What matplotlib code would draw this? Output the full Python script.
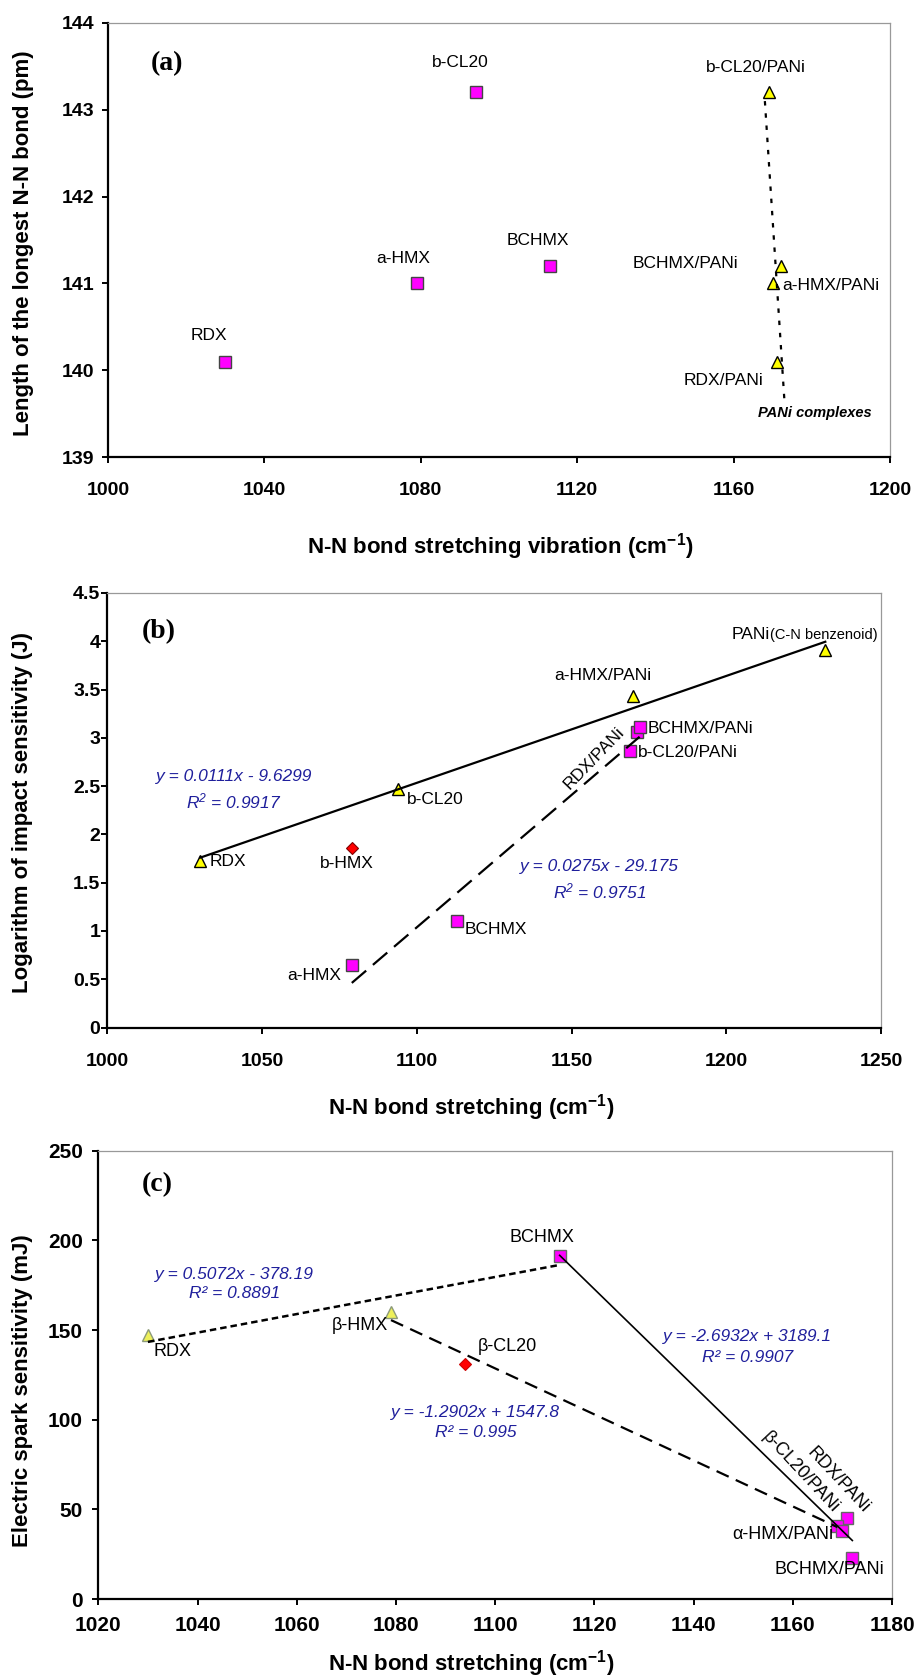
import numpy as np
import matplotlib.pyplot as plt
from matplotlib.ticker import FuncFormatter

plt.rcParams['font.family'] = ['Liberation Sans', 'DejaVu Sans']
plt.rcParams['mathtext.default'] = 'regular'

# ---- panel (a): N-N bond length vs stretching vibration ----
a_sq_names = ['RDX', 'a-HMX', 'b-CL20', 'BCHMX']
a_sq_x = [1030, 1079, 1094, 1113]
a_sq_y = [140.1, 141.0, 143.2, 141.2]
a_tri_names = ['b-CL20/PANi', 'BCHMX/PANi', 'a-HMX/PANi', 'RDX/PANi']
a_tri_x = [1169, 1172, 1170, 1171]
a_tri_y = [143.2, 141.2, 141.0, 140.1]
a_xticks = [1000, 1040, 1080, 1120, 1160, 1200]
a_yticks = [139, 140, 141, 142, 143, 144]

# ---- panel (b): log impact sensitivity ----
b_tri_names = ['RDX', 'b-CL20', 'a-HMX/PANi', 'PANi']
b_tri_x = [1030, 1094, 1170, 1232]
b_tri_y = [1.72, 2.47, 3.43, 3.91]
b_sq_names = ['a-HMX', 'BCHMX', 'b-CL20/PANi', 'RDX/PANi', 'BCHMX/PANi']
b_sq_x = [1079, 1113, 1169, 1171, 1172]
b_sq_y = [0.65, 1.10, 2.86, 3.06, 3.11]
b_dia_names = ['b-HMX']
b_dia_x = [1079]
b_dia_y = [1.86]
b_xticks = [1000, 1050, 1100, 1150, 1200, 1250]
b_yticks = [0, 0.5, 1, 1.5, 2, 2.5, 3, 3.5, 4, 4.5]

# ---- panel (c): electric spark sensitivity ----
c_tri_names = ['RDX', 'β-HMX']
c_tri_x = [1030, 1079]
c_tri_y = [147, 160]
c_dia_names = ['β-CL20']
c_dia_x = [1094]
c_dia_y = [131]
c_sq_names = ['BCHMX', 'RDX/PANi', 'β-CL20/PANi', 'α-HMX/PANi', 'BCHMX/PANi']
c_sq_x = [1113, 1171, 1169, 1170, 1172]
c_sq_y = [191.5, 45, 41, 38, 23]
c_xticks = [1020, 1040, 1060, 1080, 1100, 1120, 1140, 1160, 1180]
c_yticks = [0, 50, 100, 150, 200, 250]

EQ_BLUE = '#1f1f9c'
MAG = '#ff00ff'


def style_axes(ax, xticks, yticks, size, xpad, ypad):
    ax.set_xlim(xticks[0], xticks[-1])
    ax.set_ylim(yticks[0], yticks[-1])
    ax.set_xticks(xticks)
    ax.set_yticks(yticks)
    ax.yaxis.set_major_formatter(FuncFormatter(lambda v, p: f'{v:g}'))
    for s in ['top', 'right']:
        ax.spines[s].set_color('#999999')
        ax.spines[s].set_linewidth(0.9)
    for s in ['left', 'bottom']:
        ax.spines[s].set_color('black')
        ax.spines[s].set_linewidth(1.6)
    ax.tick_params(direction='out', length=4, width=1.4, labelsize=size)
    ax.tick_params(axis='x', pad=xpad)
    ax.tick_params(axis='y', pad=ypad)
    for lab in ax.get_xticklabels() + ax.get_yticklabels():
        lab.set_fontweight('bold')


def trend(ax, xs, ys, x0, x1, **kw):
    # excel-style linear trendline over the series range
    m, c = np.polyfit(xs, ys, 1)
    xx = np.array([x0, x1])
    ax.plot(xx, m * xx + c, color='black', zorder=3, **kw)


def put_labels(ax, names, xs, ys, offs, size, rots=None):
    if rots is None:
        rots = [0] * len(names)
    for n, x, y, (dx, dy, ha), r in zip(names, xs, ys, offs, rots):
        ax.annotate(n, (x, y), xytext=(dx, dy), textcoords='offset pixels',
                    ha=ha, va='center', fontsize=size, rotation=r,
                    rotation_mode='anchor')


def panel_text(ax, s, x, y):
    ax.text(x, y, s, transform=ax.transAxes, family='Liberation Serif',
            fontweight='bold', fontsize=20, ha='center', va='center')


fig = plt.figure(figsize=(9.18, 16.76), dpi=100)
eq = dict(color=EQ_BLUE, fontstyle='italic', fontsize=12.5, ha='center', va='center')

# ================= (a) =================
ax = fig.add_axes([0.1176, 0.7273, 0.8519, 0.2590])
ax.plot(a_sq_x, a_sq_y, 's', ms=9, mfc=MAG, mec='#444444', mew=1, zorder=2)
ax.plot(a_tri_x, a_tri_y, '^', ms=9, mfc='#ffff00', mec='black', mew=1, zorder=2)
m, c = np.polyfit(a_tri_x, a_tri_y, 1)
xx = np.array([min(a_tri_x) - 1, max(a_tri_x) + 1])
ax.plot(xx, m * xx + c, color='black', lw=1.6, ls=(0, (2, 3.5)), zorder=3)
put_labels(ax, a_sq_names, a_sq_x, a_sq_y,
           [(-16, 26, 'center'), (-14, 25, 'center'), (-15, 30, 'center'), (-12, 26, 'center')], 12.5)
put_labels(ax, a_tri_names, a_tri_x, a_tri_y,
           [(-13, 25, 'center'), (-42, 3, 'right'), (10, -2, 'left'), (-13, -19, 'right')], 12.5)
ax.text(1180.8, 139.51, 'PANi complexes', fontsize=10.5, fontweight='bold',
        fontstyle='italic', ha='center', va='center')
style_axes(ax, a_xticks, a_yticks, 14, 14, 6)
panel_text(ax, '(a)', 0.075, 0.906)
ax.set_xlabel('N-N bond stretching vibration (cm$^{-1}$)', fontsize=16, fontweight='bold')
ax.set_ylabel('Length of the longest N-N bond (pm)', fontsize=16, fontweight='bold')
ax.xaxis.set_label_coords(0.502, -0.17)
ax.yaxis.set_label_coords(-0.095, 0.493)

# ================= (b) =================
ax = fig.add_axes([0.1169, 0.3869, 0.8428, 0.2593])
ax.plot(b_sq_x, b_sq_y, 's', ms=9, mfc=MAG, mec='#444444', mew=1, zorder=2)
ax.plot(b_tri_x, b_tri_y, '^', ms=9, mfc='#ffff00', mec='black', mew=1, zorder=2)
ax.plot(b_dia_x, b_dia_y, 'D', ms=6, mfc='#ff0000', mec='#800000', mew=0.8, zorder=2)
trend(ax, b_tri_x, b_tri_y, min(b_tri_x), max(b_tri_x), lw=1.6)
trend(ax, b_sq_x, b_sq_y, min(b_sq_x), max(b_sq_x), lw=1.6, dashes=(8.5, 4))
put_labels(ax, b_tri_names[:3], b_tri_x[:3], b_tri_y[:3],
           [(9, 0, 'left'), (9, -10, 'left'), (-31, 21, 'center')], 12.5)
ax.annotate('PANi', (b_tri_x[3], b_tri_y[3]), xytext=(-94, 11), textcoords='offset pixels',
            ha='left', va='baseline', fontsize=12.5)
ax.annotate('(C-N benzenoid)', (b_tri_x[3], b_tri_y[3]), xytext=(-55, 11),
            textcoords='offset pixels', ha='left', va='baseline', fontsize=10.5)
put_labels(ax, b_sq_names, b_sq_x, b_sq_y,
           [(-11, -11, 'right'), (8, -8, 'left'), (8, -1, 'left'),
            (-42, -26, 'center'), (8, -1, 'left')], 12.5,
           rots=[0, 0, 0, 46, 0])
put_labels(ax, b_dia_names, b_dia_x, b_dia_y, [(-5, -16, 'center')], 12.5)
ax.text(1041, 2.60, 'y = 0.0111x - 9.6299', **eq)
ax.text(1041, 2.34, 'R$^{2}$ = 0.9917', **eq)
ax.text(1159, 1.67, 'y = 0.0275x - 29.175', **eq)
ax.text(1159, 1.41, 'R$^{2}$ = 0.9751', **eq)
style_axes(ax, b_xticks, b_yticks, 14, 14, 1)
panel_text(ax, '(b)', 0.066, 0.911)
ax.set_xlabel('N-N bond stretching (cm$^{-1}$)', fontsize=16, fontweight='bold')
ax.set_ylabel('Logarithm of impact sensitivity (J)', fontsize=16, fontweight='bold')
ax.xaxis.set_label_coords(0.470, -0.148)
ax.yaxis.set_label_coords(-0.096, 0.495)

# ================= (c) =================
ax = fig.add_axes([0.1071, 0.0459, 0.8646, 0.2675])
ax.plot(c_sq_x, c_sq_y, 's', ms=9, mfc=MAG, mec='#666666', mew=1, zorder=2)
ax.plot(c_tri_x, c_tri_y, '^', ms=9, mfc='#eef05a', mec='#8c9a7a', mew=1, zorder=2)
ax.plot(c_dia_x, c_dia_y, 'D', ms=6, mfc='#ff0000', mec='#cc0000', mew=0.8, zorder=2)
# short dashes: RDX, β-HMX, BCHMX
sd_x = [c_tri_x[0], c_tri_x[1], c_sq_x[0]]
sd_y = [c_tri_y[0], c_tri_y[1], c_sq_y[0]]
trend(ax, sd_x, sd_y, min(sd_x), max(sd_x), lw=1.8, dashes=(2.6, 1.6))
# long dashes: β-HMX, β-CL20, β-CL20/PANi
ld_x = [c_tri_x[1], c_dia_x[0], c_sq_x[2]]
ld_y = [c_tri_y[1], c_dia_y[0], c_sq_y[2]]
trend(ax, ld_x, ld_y, min(ld_x), max(ld_x), lw=1.6, dashes=(6, 3.5))
trend(ax, c_sq_x, c_sq_y, min(c_sq_x), max(c_sq_x), lw=1.2)
put_labels(ax, c_tri_names, c_tri_x, c_tri_y, [(25, -16, 'center'), (-31, -13, 'center')], 13)
put_labels(ax, c_dia_names, c_dia_x, c_dia_y, [(42, 18, 'center')], 13)
put_labels(ax, c_sq_names, c_sq_x, c_sq_y,
           [(-18, 18, 'center'), (-9, 38, 'center'), (-37, 53, 'center'),
            (-9, -4, 'right'), (-23, -12, 'center')], 13,
           rots=[0, -47, -47, 0, 0])
ax.text(1047.4, 181.1, 'y = 0.5072x - 378.19', **eq)
ax.text(1047.4, 170.2, 'R² = 0.8891', **eq)
ax.text(1150.8, 146.3, 'y = -2.6932x + 3189.1', **eq)
ax.text(1150.8, 134.8, 'R² = 0.9907', **eq)
ax.text(1096.0, 104.0, 'y = -1.2902x + 1547.8', **eq)
ax.text(1096.0, 93.1, 'R² = 0.995', **eq)
style_axes(ax, c_xticks, c_yticks, 15, 8.5, 7)
panel_text(ax, '(c)', 0.074, 0.9235)
ax.set_xlabel('N-N bond stretching (cm$^{-1}$)', fontsize=16, fontweight='bold')
ax.set_ylabel('Electric spark sensitivity (mJ)', fontsize=16, fontweight='bold')
ax.xaxis.set_label_coords(0.470, -0.110)
ax.yaxis.set_label_coords(-0.082, 0.464)

fig.savefig('out.png', dpi=100, facecolor='white')
